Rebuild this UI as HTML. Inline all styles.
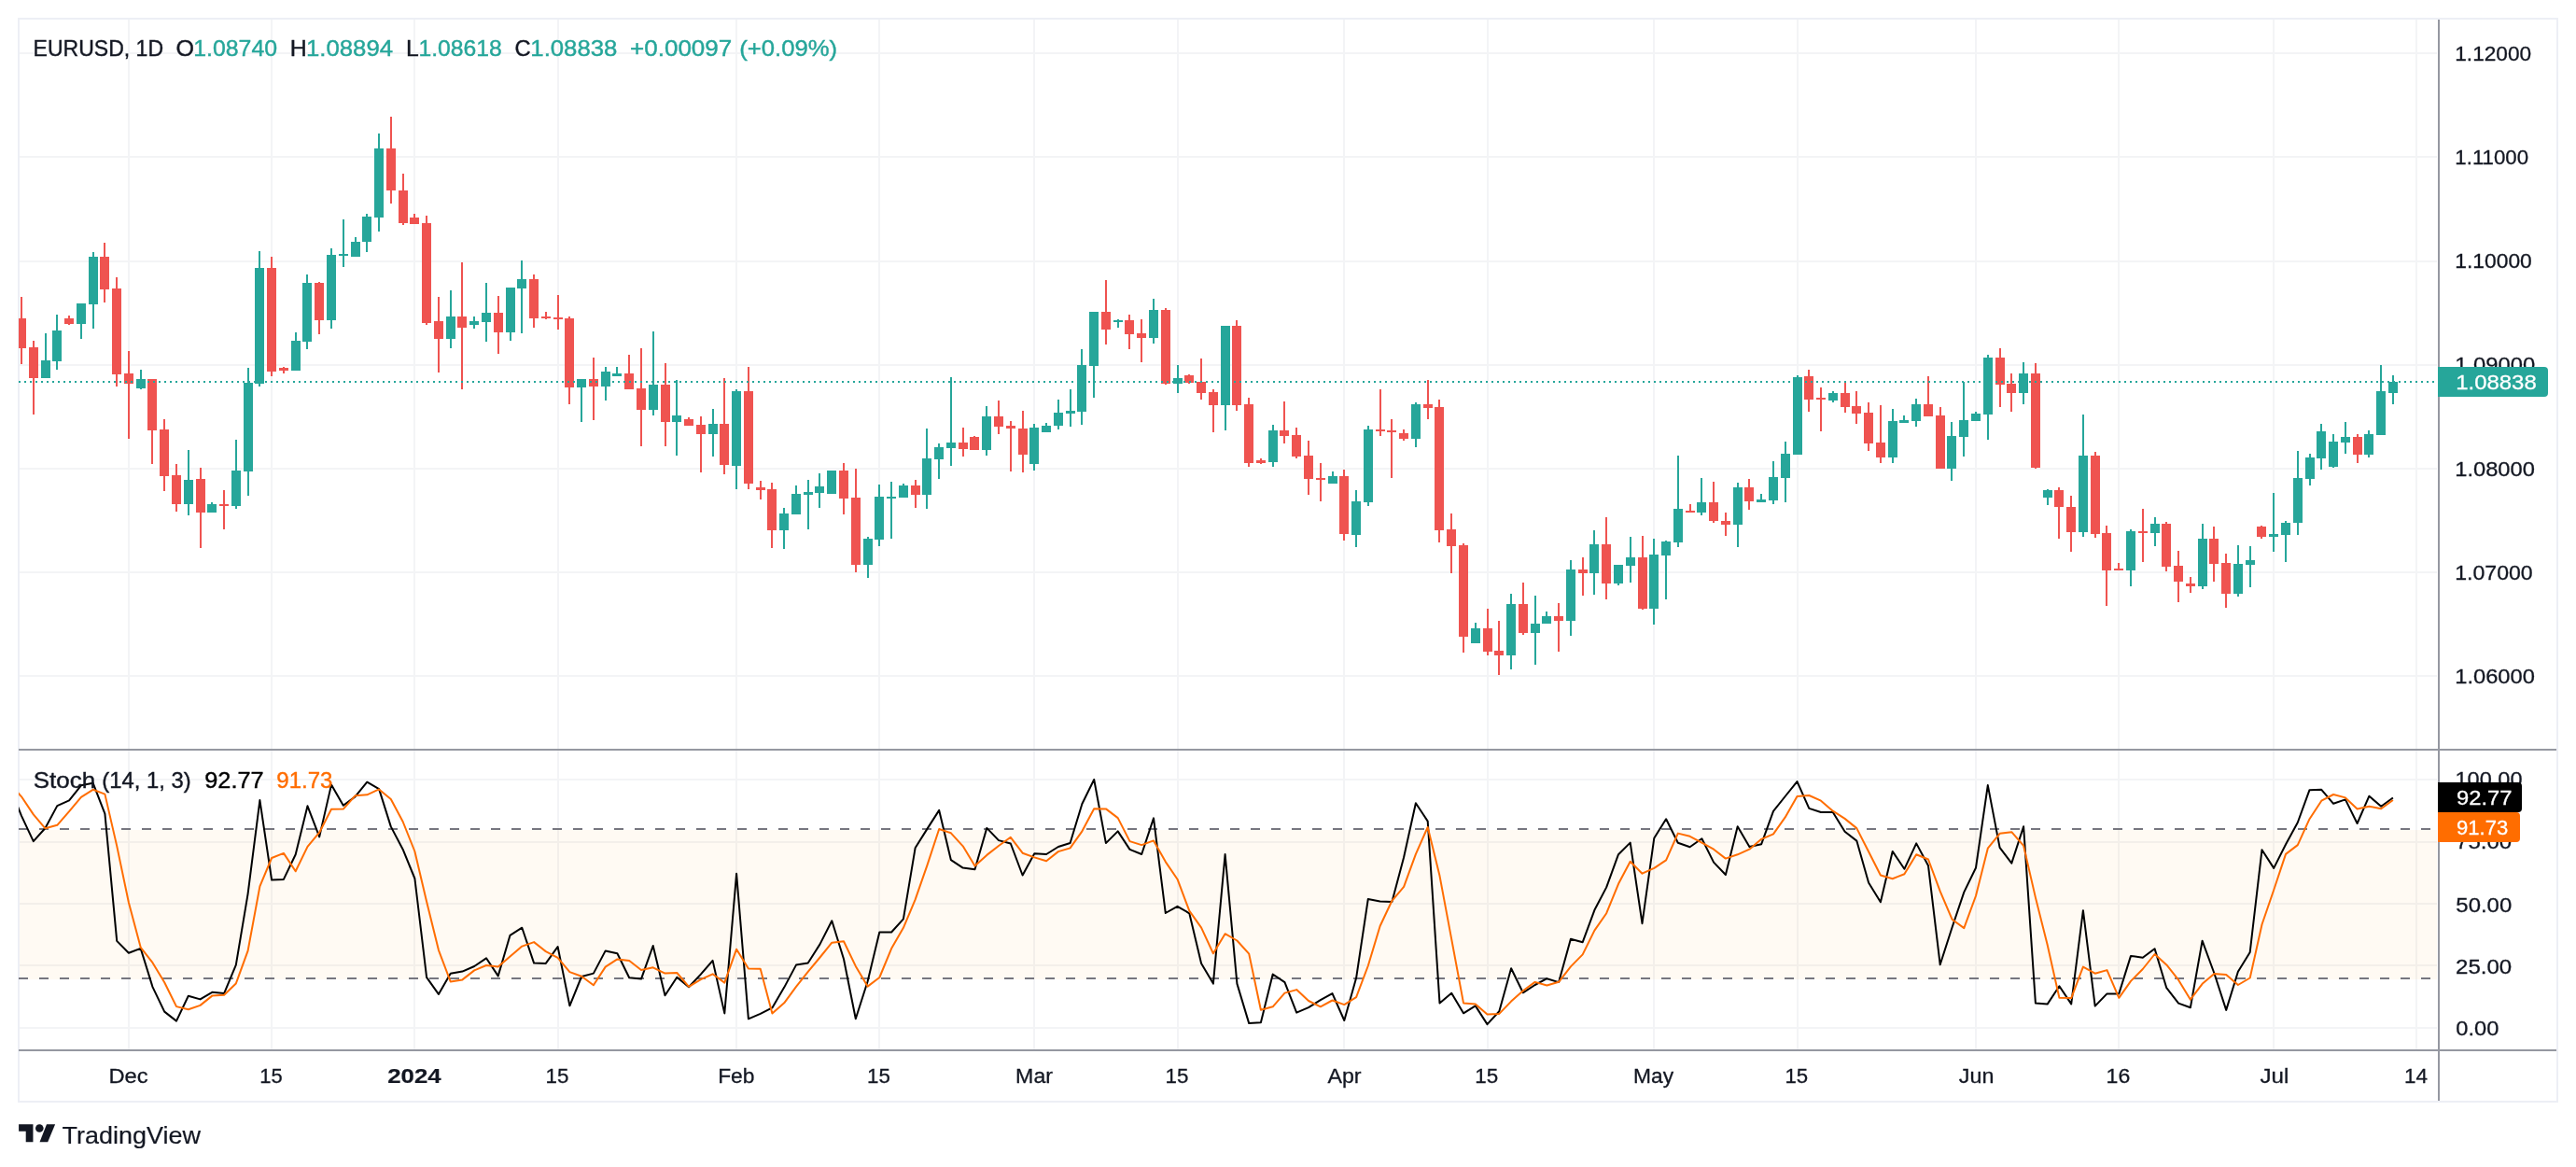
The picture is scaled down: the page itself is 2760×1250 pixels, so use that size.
<!DOCTYPE html><html><head><meta charset="utf-8"><title>EURUSD</title><style>html,body{margin:0;padding:0;background:#fff}body{width:2760px;height:1250px;overflow:hidden}svg{display:block}</style></head><body><svg width="2760" height="1250" viewBox="0 0 2760 1250" font-family="'Liberation Sans', sans-serif" style="will-change:transform">
<defs><clipPath id="cp1"><rect x="20" y="21" width="2592" height="781"/></clipPath><clipPath id="cp2"><rect x="20" y="804" width="2592" height="320"/></clipPath></defs>
<rect width="2760" height="1250" fill="#fff"/>
<g fill="#f3f4f6" shape-rendering="crispEdges">
<rect x="137" y="21" width="2" height="1103"/>
<rect x="290" y="21" width="2" height="1103"/>
<rect x="443" y="21" width="2" height="1103"/>
<rect x="597" y="21" width="2" height="1103"/>
<rect x="788" y="21" width="2" height="1103"/>
<rect x="941" y="21" width="2" height="1103"/>
<rect x="1107" y="21" width="2" height="1103"/>
<rect x="1261" y="21" width="2" height="1103"/>
<rect x="1439" y="21" width="2" height="1103"/>
<rect x="1593" y="21" width="2" height="1103"/>
<rect x="1771" y="21" width="2" height="1103"/>
<rect x="1925" y="21" width="2" height="1103"/>
<rect x="2116" y="21" width="2" height="1103"/>
<rect x="2269" y="21" width="2" height="1103"/>
<rect x="2435" y="21" width="2" height="1103"/>
<rect x="2588" y="21" width="2" height="1103"/>
<rect x="21" y="56" width="2590" height="2"/>
<rect x="21" y="167" width="2590" height="2"/>
<rect x="21" y="279" width="2590" height="2"/>
<rect x="21" y="390" width="2590" height="2"/>
<rect x="21" y="501" width="2590" height="2"/>
<rect x="21" y="612" width="2590" height="2"/>
<rect x="21" y="723" width="2590" height="2"/>
<rect x="21" y="834" width="2590" height="2"/>
<rect x="21" y="901" width="2590" height="2"/>
<rect x="21" y="967" width="2590" height="2"/>
<rect x="21" y="1033" width="2590" height="2"/>
<rect x="21" y="1100" width="2590" height="2"/>
</g>
<rect x="19" y="19" width="2" height="1162" fill="#edeff5" shape-rendering="crispEdges"/>
<rect x="21" y="889" width="2590" height="160" fill="rgb(255,160,40)" fill-opacity="0.055" shape-rendering="crispEdges"/>
<line x1="20" y1="888" x2="2612" y2="888" stroke="#76767f" stroke-width="2" stroke-dasharray="10 12" shape-rendering="crispEdges"/>
<line x1="20" y1="1048" x2="2612" y2="1048" stroke="#76767f" stroke-width="2" stroke-dasharray="10 12" shape-rendering="crispEdges"/>
<g clip-path="url(#cp1)" shape-rendering="crispEdges">
<rect x="22" y="318" width="2" height="72" fill="#ef5350"/><rect x="18" y="341" width="10" height="32" fill="#ef5350"/>
<rect x="35" y="365" width="2" height="79" fill="#ef5350"/><rect x="31" y="372" width="10" height="33" fill="#ef5350"/>
<rect x="48" y="357" width="2" height="48" fill="#26a69a"/><rect x="44" y="386" width="10" height="19" fill="#26a69a"/>
<rect x="60" y="337" width="2" height="59" fill="#26a69a"/><rect x="56" y="354" width="10" height="33" fill="#26a69a"/>
<rect x="73" y="338" width="2" height="10" fill="#ef5350"/><rect x="69" y="341" width="10" height="6" fill="#ef5350"/>
<rect x="86" y="325" width="2" height="38" fill="#26a69a"/><rect x="82" y="325" width="10" height="22" fill="#26a69a"/>
<rect x="99" y="270" width="2" height="82" fill="#26a69a"/><rect x="95" y="275" width="10" height="51" fill="#26a69a"/>
<rect x="111" y="260" width="2" height="64" fill="#ef5350"/><rect x="107" y="275" width="10" height="35" fill="#ef5350"/>
<rect x="124" y="297" width="2" height="117" fill="#ef5350"/><rect x="120" y="309" width="10" height="92" fill="#ef5350"/>
<rect x="137" y="376" width="2" height="94" fill="#ef5350"/><rect x="133" y="400" width="10" height="11" fill="#ef5350"/>
<rect x="150" y="396" width="2" height="21" fill="#26a69a"/><rect x="146" y="406" width="10" height="10" fill="#26a69a"/>
<rect x="162" y="406" width="2" height="91" fill="#ef5350"/><rect x="158" y="406" width="10" height="55" fill="#ef5350"/>
<rect x="175" y="449" width="2" height="77" fill="#ef5350"/><rect x="171" y="460" width="10" height="50" fill="#ef5350"/>
<rect x="188" y="497" width="2" height="51" fill="#ef5350"/><rect x="184" y="509" width="10" height="31" fill="#ef5350"/>
<rect x="201" y="482" width="2" height="70" fill="#26a69a"/><rect x="197" y="514" width="10" height="26" fill="#26a69a"/>
<rect x="214" y="501" width="2" height="86" fill="#ef5350"/><rect x="210" y="513" width="10" height="36" fill="#ef5350"/>
<rect x="226" y="538" width="2" height="11" fill="#26a69a"/><rect x="222" y="540" width="10" height="9" fill="#26a69a"/>
<rect x="239" y="525" width="2" height="42" fill="#ef5350"/><rect x="235" y="540" width="10" height="2" fill="#ef5350"/>
<rect x="252" y="471" width="2" height="74" fill="#26a69a"/><rect x="248" y="504" width="10" height="38" fill="#26a69a"/>
<rect x="265" y="394" width="2" height="137" fill="#26a69a"/><rect x="261" y="410" width="10" height="95" fill="#26a69a"/>
<rect x="277" y="269" width="2" height="145" fill="#26a69a"/><rect x="273" y="287" width="10" height="124" fill="#26a69a"/>
<rect x="290" y="275" width="2" height="128" fill="#ef5350"/><rect x="286" y="287" width="10" height="111" fill="#ef5350"/>
<rect x="303" y="393" width="2" height="7" fill="#ef5350"/><rect x="299" y="394" width="10" height="3" fill="#ef5350"/>
<rect x="316" y="356" width="2" height="41" fill="#26a69a"/><rect x="312" y="365" width="10" height="32" fill="#26a69a"/>
<rect x="328" y="294" width="2" height="80" fill="#26a69a"/><rect x="324" y="303" width="10" height="63" fill="#26a69a"/>
<rect x="341" y="302" width="2" height="56" fill="#ef5350"/><rect x="337" y="303" width="10" height="40" fill="#ef5350"/>
<rect x="354" y="266" width="2" height="86" fill="#26a69a"/><rect x="350" y="273" width="10" height="70" fill="#26a69a"/>
<rect x="367" y="235" width="2" height="51" fill="#26a69a"/><rect x="363" y="272" width="10" height="2" fill="#26a69a"/>
<rect x="380" y="254" width="2" height="21" fill="#26a69a"/><rect x="376" y="259" width="10" height="16" fill="#26a69a"/>
<rect x="392" y="229" width="2" height="41" fill="#26a69a"/><rect x="388" y="232" width="10" height="27" fill="#26a69a"/>
<rect x="405" y="143" width="2" height="105" fill="#26a69a"/><rect x="401" y="159" width="10" height="74" fill="#26a69a"/>
<rect x="418" y="125" width="2" height="93" fill="#ef5350"/><rect x="414" y="159" width="10" height="45" fill="#ef5350"/>
<rect x="431" y="186" width="2" height="55" fill="#ef5350"/><rect x="427" y="204" width="10" height="35" fill="#ef5350"/>
<rect x="443" y="229" width="2" height="11" fill="#ef5350"/><rect x="439" y="233" width="10" height="7" fill="#ef5350"/>
<rect x="456" y="231" width="2" height="117" fill="#ef5350"/><rect x="452" y="239" width="10" height="107" fill="#ef5350"/>
<rect x="469" y="318" width="2" height="81" fill="#ef5350"/><rect x="465" y="344" width="10" height="19" fill="#ef5350"/>
<rect x="482" y="311" width="2" height="62" fill="#26a69a"/><rect x="478" y="339" width="10" height="24" fill="#26a69a"/>
<rect x="494" y="281" width="2" height="136" fill="#ef5350"/><rect x="490" y="339" width="10" height="12" fill="#ef5350"/>
<rect x="507" y="339" width="2" height="13" fill="#26a69a"/><rect x="503" y="344" width="10" height="4" fill="#26a69a"/>
<rect x="520" y="303" width="2" height="63" fill="#26a69a"/><rect x="516" y="335" width="10" height="10" fill="#26a69a"/>
<rect x="533" y="317" width="2" height="62" fill="#ef5350"/><rect x="529" y="335" width="10" height="21" fill="#ef5350"/>
<rect x="546" y="308" width="2" height="57" fill="#26a69a"/><rect x="542" y="308" width="10" height="48" fill="#26a69a"/>
<rect x="558" y="279" width="2" height="78" fill="#26a69a"/><rect x="554" y="299" width="10" height="10" fill="#26a69a"/>
<rect x="571" y="294" width="2" height="57" fill="#ef5350"/><rect x="567" y="299" width="10" height="42" fill="#ef5350"/>
<rect x="584" y="334" width="2" height="8" fill="#ef5350"/><rect x="580" y="339" width="10" height="2" fill="#ef5350"/>
<rect x="597" y="316" width="2" height="37" fill="#ef5350"/><rect x="593" y="340" width="10" height="2" fill="#ef5350"/>
<rect x="609" y="339" width="2" height="94" fill="#ef5350"/><rect x="605" y="341" width="10" height="74" fill="#ef5350"/>
<rect x="622" y="406" width="2" height="46" fill="#26a69a"/><rect x="618" y="406" width="10" height="9" fill="#26a69a"/>
<rect x="635" y="383" width="2" height="67" fill="#ef5350"/><rect x="631" y="406" width="10" height="8" fill="#ef5350"/>
<rect x="648" y="393" width="2" height="36" fill="#26a69a"/><rect x="644" y="398" width="10" height="16" fill="#26a69a"/>
<rect x="660" y="393" width="2" height="10" fill="#26a69a"/><rect x="656" y="400" width="10" height="3" fill="#26a69a"/>
<rect x="673" y="380" width="2" height="37" fill="#ef5350"/><rect x="669" y="400" width="10" height="17" fill="#ef5350"/>
<rect x="686" y="373" width="2" height="105" fill="#ef5350"/><rect x="682" y="416" width="10" height="23" fill="#ef5350"/>
<rect x="699" y="355" width="2" height="90" fill="#26a69a"/><rect x="695" y="412" width="10" height="27" fill="#26a69a"/>
<rect x="712" y="389" width="2" height="89" fill="#ef5350"/><rect x="708" y="412" width="10" height="40" fill="#ef5350"/>
<rect x="724" y="407" width="2" height="81" fill="#26a69a"/><rect x="720" y="445" width="10" height="7" fill="#26a69a"/>
<rect x="737" y="447" width="2" height="9" fill="#ef5350"/><rect x="733" y="449" width="10" height="7" fill="#ef5350"/>
<rect x="750" y="446" width="2" height="60" fill="#ef5350"/><rect x="746" y="455" width="10" height="10" fill="#ef5350"/>
<rect x="763" y="438" width="2" height="51" fill="#26a69a"/><rect x="759" y="454" width="10" height="11" fill="#26a69a"/>
<rect x="775" y="405" width="2" height="103" fill="#ef5350"/><rect x="771" y="454" width="10" height="44" fill="#ef5350"/>
<rect x="788" y="417" width="2" height="107" fill="#26a69a"/><rect x="784" y="419" width="10" height="80" fill="#26a69a"/>
<rect x="801" y="393" width="2" height="131" fill="#ef5350"/><rect x="797" y="419" width="10" height="99" fill="#ef5350"/>
<rect x="814" y="515" width="2" height="20" fill="#ef5350"/><rect x="810" y="522" width="10" height="3" fill="#ef5350"/>
<rect x="826" y="517" width="2" height="70" fill="#ef5350"/><rect x="822" y="524" width="10" height="44" fill="#ef5350"/>
<rect x="839" y="544" width="2" height="44" fill="#26a69a"/><rect x="835" y="550" width="10" height="18" fill="#26a69a"/>
<rect x="852" y="520" width="2" height="31" fill="#26a69a"/><rect x="848" y="529" width="10" height="22" fill="#26a69a"/>
<rect x="865" y="514" width="2" height="53" fill="#26a69a"/><rect x="861" y="527" width="10" height="3" fill="#26a69a"/>
<rect x="877" y="507" width="2" height="37" fill="#26a69a"/><rect x="873" y="521" width="10" height="7" fill="#26a69a"/>
<rect x="890" y="504" width="2" height="25" fill="#26a69a"/><rect x="886" y="504" width="10" height="25" fill="#26a69a"/>
<rect x="903" y="496" width="2" height="55" fill="#ef5350"/><rect x="899" y="504" width="10" height="30" fill="#ef5350"/>
<rect x="916" y="502" width="2" height="111" fill="#ef5350"/><rect x="912" y="533" width="10" height="72" fill="#ef5350"/>
<rect x="929" y="575" width="2" height="44" fill="#26a69a"/><rect x="925" y="577" width="10" height="28" fill="#26a69a"/>
<rect x="941" y="519" width="2" height="66" fill="#26a69a"/><rect x="937" y="532" width="10" height="46" fill="#26a69a"/>
<rect x="954" y="516" width="2" height="61" fill="#26a69a"/><rect x="950" y="532" width="10" height="2" fill="#26a69a"/>
<rect x="967" y="518" width="2" height="15" fill="#26a69a"/><rect x="963" y="520" width="10" height="13" fill="#26a69a"/>
<rect x="980" y="514" width="2" height="30" fill="#ef5350"/><rect x="976" y="520" width="10" height="10" fill="#ef5350"/>
<rect x="992" y="459" width="2" height="86" fill="#26a69a"/><rect x="988" y="491" width="10" height="39" fill="#26a69a"/>
<rect x="1005" y="475" width="2" height="38" fill="#26a69a"/><rect x="1001" y="479" width="10" height="13" fill="#26a69a"/>
<rect x="1018" y="404" width="2" height="95" fill="#26a69a"/><rect x="1014" y="474" width="10" height="6" fill="#26a69a"/>
<rect x="1031" y="458" width="2" height="31" fill="#ef5350"/><rect x="1027" y="474" width="10" height="7" fill="#ef5350"/>
<rect x="1043" y="467" width="2" height="15" fill="#ef5350"/><rect x="1039" y="468" width="10" height="14" fill="#ef5350"/>
<rect x="1056" y="435" width="2" height="53" fill="#26a69a"/><rect x="1052" y="446" width="10" height="36" fill="#26a69a"/>
<rect x="1069" y="429" width="2" height="36" fill="#ef5350"/><rect x="1065" y="446" width="10" height="11" fill="#ef5350"/>
<rect x="1082" y="451" width="2" height="54" fill="#ef5350"/><rect x="1078" y="456" width="10" height="3" fill="#ef5350"/>
<rect x="1095" y="440" width="2" height="66" fill="#ef5350"/><rect x="1091" y="459" width="10" height="28" fill="#ef5350"/>
<rect x="1107" y="454" width="2" height="50" fill="#26a69a"/><rect x="1103" y="458" width="10" height="39" fill="#26a69a"/>
<rect x="1120" y="453" width="2" height="10" fill="#26a69a"/><rect x="1116" y="456" width="10" height="7" fill="#26a69a"/>
<rect x="1133" y="428" width="2" height="32" fill="#26a69a"/><rect x="1129" y="442" width="10" height="14" fill="#26a69a"/>
<rect x="1146" y="417" width="2" height="40" fill="#26a69a"/><rect x="1142" y="440" width="10" height="3" fill="#26a69a"/>
<rect x="1158" y="374" width="2" height="81" fill="#26a69a"/><rect x="1154" y="391" width="10" height="50" fill="#26a69a"/>
<rect x="1171" y="334" width="2" height="92" fill="#26a69a"/><rect x="1167" y="334" width="10" height="58" fill="#26a69a"/>
<rect x="1184" y="300" width="2" height="69" fill="#ef5350"/><rect x="1180" y="334" width="10" height="19" fill="#ef5350"/>
<rect x="1197" y="342" width="2" height="9" fill="#26a69a"/><rect x="1193" y="343" width="10" height="2" fill="#26a69a"/>
<rect x="1209" y="337" width="2" height="37" fill="#ef5350"/><rect x="1205" y="343" width="10" height="15" fill="#ef5350"/>
<rect x="1222" y="342" width="2" height="46" fill="#ef5350"/><rect x="1218" y="357" width="10" height="5" fill="#ef5350"/>
<rect x="1235" y="320" width="2" height="48" fill="#26a69a"/><rect x="1231" y="332" width="10" height="30" fill="#26a69a"/>
<rect x="1248" y="330" width="2" height="82" fill="#ef5350"/><rect x="1244" y="332" width="10" height="79" fill="#ef5350"/>
<rect x="1261" y="391" width="2" height="30" fill="#26a69a"/><rect x="1257" y="405" width="10" height="6" fill="#26a69a"/>
<rect x="1273" y="401" width="2" height="10" fill="#ef5350"/><rect x="1269" y="402" width="10" height="8" fill="#ef5350"/>
<rect x="1286" y="384" width="2" height="44" fill="#ef5350"/><rect x="1282" y="409" width="10" height="12" fill="#ef5350"/>
<rect x="1299" y="417" width="2" height="46" fill="#ef5350"/><rect x="1295" y="420" width="10" height="14" fill="#ef5350"/>
<rect x="1312" y="349" width="2" height="112" fill="#26a69a"/><rect x="1308" y="349" width="10" height="85" fill="#26a69a"/>
<rect x="1324" y="343" width="2" height="97" fill="#ef5350"/><rect x="1320" y="349" width="10" height="85" fill="#ef5350"/>
<rect x="1337" y="426" width="2" height="74" fill="#ef5350"/><rect x="1333" y="433" width="10" height="63" fill="#ef5350"/>
<rect x="1350" y="491" width="2" height="6" fill="#ef5350"/><rect x="1346" y="493" width="10" height="3" fill="#ef5350"/>
<rect x="1363" y="455" width="2" height="45" fill="#26a69a"/><rect x="1359" y="461" width="10" height="34" fill="#26a69a"/>
<rect x="1375" y="430" width="2" height="45" fill="#ef5350"/><rect x="1371" y="461" width="10" height="6" fill="#ef5350"/>
<rect x="1388" y="458" width="2" height="33" fill="#ef5350"/><rect x="1384" y="466" width="10" height="23" fill="#ef5350"/>
<rect x="1401" y="472" width="2" height="58" fill="#ef5350"/><rect x="1397" y="488" width="10" height="25" fill="#ef5350"/>
<rect x="1414" y="496" width="2" height="41" fill="#ef5350"/><rect x="1410" y="512" width="10" height="2" fill="#ef5350"/>
<rect x="1427" y="505" width="2" height="13" fill="#26a69a"/><rect x="1423" y="510" width="10" height="8" fill="#26a69a"/>
<rect x="1439" y="503" width="2" height="76" fill="#ef5350"/><rect x="1435" y="510" width="10" height="62" fill="#ef5350"/>
<rect x="1452" y="525" width="2" height="61" fill="#26a69a"/><rect x="1448" y="537" width="10" height="36" fill="#26a69a"/>
<rect x="1465" y="456" width="2" height="86" fill="#26a69a"/><rect x="1461" y="460" width="10" height="78" fill="#26a69a"/>
<rect x="1478" y="417" width="2" height="50" fill="#ef5350"/><rect x="1474" y="460" width="10" height="2" fill="#ef5350"/>
<rect x="1490" y="449" width="2" height="63" fill="#ef5350"/><rect x="1486" y="461" width="10" height="2" fill="#ef5350"/>
<rect x="1503" y="460" width="2" height="12" fill="#ef5350"/><rect x="1499" y="464" width="10" height="6" fill="#ef5350"/>
<rect x="1516" y="431" width="2" height="48" fill="#26a69a"/><rect x="1512" y="433" width="10" height="37" fill="#26a69a"/>
<rect x="1529" y="407" width="2" height="42" fill="#ef5350"/><rect x="1525" y="433" width="10" height="4" fill="#ef5350"/>
<rect x="1541" y="428" width="2" height="153" fill="#ef5350"/><rect x="1537" y="436" width="10" height="132" fill="#ef5350"/>
<rect x="1554" y="550" width="2" height="64" fill="#ef5350"/><rect x="1550" y="567" width="10" height="18" fill="#ef5350"/>
<rect x="1567" y="582" width="2" height="117" fill="#ef5350"/><rect x="1563" y="584" width="10" height="98" fill="#ef5350"/>
<rect x="1580" y="667" width="2" height="22" fill="#26a69a"/><rect x="1576" y="673" width="10" height="16" fill="#26a69a"/>
<rect x="1593" y="652" width="2" height="50" fill="#ef5350"/><rect x="1589" y="673" width="10" height="25" fill="#ef5350"/>
<rect x="1605" y="665" width="2" height="58" fill="#ef5350"/><rect x="1601" y="697" width="10" height="5" fill="#ef5350"/>
<rect x="1618" y="636" width="2" height="81" fill="#26a69a"/><rect x="1614" y="647" width="10" height="55" fill="#26a69a"/>
<rect x="1631" y="624" width="2" height="56" fill="#ef5350"/><rect x="1627" y="647" width="10" height="31" fill="#ef5350"/>
<rect x="1644" y="638" width="2" height="74" fill="#26a69a"/><rect x="1640" y="668" width="10" height="10" fill="#26a69a"/>
<rect x="1656" y="655" width="2" height="13" fill="#26a69a"/><rect x="1652" y="660" width="10" height="8" fill="#26a69a"/>
<rect x="1669" y="646" width="2" height="52" fill="#ef5350"/><rect x="1665" y="660" width="10" height="5" fill="#ef5350"/>
<rect x="1682" y="600" width="2" height="81" fill="#26a69a"/><rect x="1678" y="610" width="10" height="55" fill="#26a69a"/>
<rect x="1695" y="597" width="2" height="41" fill="#ef5350"/><rect x="1691" y="610" width="10" height="4" fill="#ef5350"/>
<rect x="1707" y="568" width="2" height="69" fill="#26a69a"/><rect x="1703" y="583" width="10" height="31" fill="#26a69a"/>
<rect x="1720" y="554" width="2" height="88" fill="#ef5350"/><rect x="1716" y="583" width="10" height="42" fill="#ef5350"/>
<rect x="1733" y="605" width="2" height="22" fill="#26a69a"/><rect x="1729" y="605" width="10" height="20" fill="#26a69a"/>
<rect x="1746" y="575" width="2" height="49" fill="#26a69a"/><rect x="1742" y="597" width="10" height="9" fill="#26a69a"/>
<rect x="1759" y="574" width="2" height="79" fill="#ef5350"/><rect x="1755" y="597" width="10" height="55" fill="#ef5350"/>
<rect x="1771" y="577" width="2" height="92" fill="#26a69a"/><rect x="1767" y="594" width="10" height="58" fill="#26a69a"/>
<rect x="1784" y="579" width="2" height="63" fill="#26a69a"/><rect x="1780" y="580" width="10" height="15" fill="#26a69a"/>
<rect x="1797" y="488" width="2" height="98" fill="#26a69a"/><rect x="1793" y="545" width="10" height="36" fill="#26a69a"/>
<rect x="1810" y="540" width="2" height="9" fill="#ef5350"/><rect x="1806" y="547" width="10" height="2" fill="#ef5350"/>
<rect x="1822" y="512" width="2" height="40" fill="#26a69a"/><rect x="1818" y="538" width="10" height="11" fill="#26a69a"/>
<rect x="1835" y="516" width="2" height="44" fill="#ef5350"/><rect x="1831" y="538" width="10" height="20" fill="#ef5350"/>
<rect x="1848" y="549" width="2" height="25" fill="#ef5350"/><rect x="1844" y="558" width="10" height="4" fill="#ef5350"/>
<rect x="1861" y="517" width="2" height="69" fill="#26a69a"/><rect x="1857" y="522" width="10" height="40" fill="#26a69a"/>
<rect x="1873" y="513" width="2" height="33" fill="#ef5350"/><rect x="1869" y="522" width="10" height="15" fill="#ef5350"/>
<rect x="1886" y="529" width="2" height="9" fill="#26a69a"/><rect x="1882" y="535" width="10" height="3" fill="#26a69a"/>
<rect x="1899" y="494" width="2" height="46" fill="#26a69a"/><rect x="1895" y="511" width="10" height="25" fill="#26a69a"/>
<rect x="1912" y="473" width="2" height="65" fill="#26a69a"/><rect x="1908" y="486" width="10" height="26" fill="#26a69a"/>
<rect x="1925" y="402" width="2" height="85" fill="#26a69a"/><rect x="1921" y="404" width="10" height="83" fill="#26a69a"/>
<rect x="1937" y="396" width="2" height="45" fill="#ef5350"/><rect x="1933" y="403" width="10" height="25" fill="#ef5350"/>
<rect x="1950" y="415" width="2" height="47" fill="#ef5350"/><rect x="1946" y="426" width="10" height="2" fill="#ef5350"/>
<rect x="1963" y="419" width="2" height="12" fill="#26a69a"/><rect x="1959" y="421" width="10" height="8" fill="#26a69a"/>
<rect x="1976" y="408" width="2" height="34" fill="#ef5350"/><rect x="1972" y="421" width="10" height="15" fill="#ef5350"/>
<rect x="1988" y="419" width="2" height="35" fill="#ef5350"/><rect x="1984" y="435" width="10" height="8" fill="#ef5350"/>
<rect x="2001" y="431" width="2" height="52" fill="#ef5350"/><rect x="1997" y="442" width="10" height="33" fill="#ef5350"/>
<rect x="2014" y="434" width="2" height="62" fill="#ef5350"/><rect x="2010" y="474" width="10" height="16" fill="#ef5350"/>
<rect x="2027" y="438" width="2" height="58" fill="#26a69a"/><rect x="2023" y="451" width="10" height="39" fill="#26a69a"/>
<rect x="2039" y="445" width="2" height="8" fill="#26a69a"/><rect x="2035" y="450" width="10" height="3" fill="#26a69a"/>
<rect x="2052" y="427" width="2" height="30" fill="#26a69a"/><rect x="2048" y="433" width="10" height="18" fill="#26a69a"/>
<rect x="2065" y="403" width="2" height="43" fill="#ef5350"/><rect x="2061" y="433" width="10" height="13" fill="#ef5350"/>
<rect x="2078" y="436" width="2" height="66" fill="#ef5350"/><rect x="2074" y="445" width="10" height="57" fill="#ef5350"/>
<rect x="2090" y="452" width="2" height="63" fill="#26a69a"/><rect x="2086" y="467" width="10" height="35" fill="#26a69a"/>
<rect x="2103" y="409" width="2" height="80" fill="#26a69a"/><rect x="2099" y="450" width="10" height="18" fill="#26a69a"/>
<rect x="2116" y="441" width="2" height="10" fill="#26a69a"/><rect x="2112" y="443" width="10" height="8" fill="#26a69a"/>
<rect x="2129" y="380" width="2" height="91" fill="#26a69a"/><rect x="2125" y="383" width="10" height="61" fill="#26a69a"/>
<rect x="2142" y="373" width="2" height="63" fill="#ef5350"/><rect x="2138" y="383" width="10" height="29" fill="#ef5350"/>
<rect x="2154" y="400" width="2" height="41" fill="#ef5350"/><rect x="2150" y="411" width="10" height="10" fill="#ef5350"/>
<rect x="2167" y="388" width="2" height="45" fill="#26a69a"/><rect x="2163" y="400" width="10" height="21" fill="#26a69a"/>
<rect x="2180" y="389" width="2" height="113" fill="#ef5350"/><rect x="2176" y="400" width="10" height="101" fill="#ef5350"/>
<rect x="2193" y="524" width="2" height="17" fill="#26a69a"/><rect x="2189" y="525" width="10" height="8" fill="#26a69a"/>
<rect x="2205" y="522" width="2" height="55" fill="#ef5350"/><rect x="2201" y="525" width="10" height="18" fill="#ef5350"/>
<rect x="2218" y="531" width="2" height="60" fill="#ef5350"/><rect x="2214" y="543" width="10" height="27" fill="#ef5350"/>
<rect x="2231" y="444" width="2" height="131" fill="#26a69a"/><rect x="2227" y="488" width="10" height="82" fill="#26a69a"/>
<rect x="2244" y="484" width="2" height="92" fill="#ef5350"/><rect x="2240" y="488" width="10" height="84" fill="#ef5350"/>
<rect x="2256" y="563" width="2" height="86" fill="#ef5350"/><rect x="2252" y="571" width="10" height="40" fill="#ef5350"/>
<rect x="2269" y="603" width="2" height="8" fill="#ef5350"/><rect x="2265" y="609" width="10" height="2" fill="#ef5350"/>
<rect x="2282" y="567" width="2" height="61" fill="#26a69a"/><rect x="2278" y="569" width="10" height="42" fill="#26a69a"/>
<rect x="2295" y="545" width="2" height="57" fill="#ef5350"/><rect x="2291" y="569" width="10" height="2" fill="#ef5350"/>
<rect x="2308" y="554" width="2" height="31" fill="#26a69a"/><rect x="2304" y="561" width="10" height="10" fill="#26a69a"/>
<rect x="2320" y="559" width="2" height="53" fill="#ef5350"/><rect x="2316" y="561" width="10" height="46" fill="#ef5350"/>
<rect x="2333" y="590" width="2" height="55" fill="#ef5350"/><rect x="2329" y="606" width="10" height="17" fill="#ef5350"/>
<rect x="2346" y="618" width="2" height="17" fill="#ef5350"/><rect x="2342" y="625" width="10" height="3" fill="#ef5350"/>
<rect x="2359" y="561" width="2" height="70" fill="#26a69a"/><rect x="2355" y="577" width="10" height="51" fill="#26a69a"/>
<rect x="2371" y="564" width="2" height="59" fill="#ef5350"/><rect x="2367" y="577" width="10" height="27" fill="#ef5350"/>
<rect x="2384" y="593" width="2" height="58" fill="#ef5350"/><rect x="2380" y="603" width="10" height="33" fill="#ef5350"/>
<rect x="2397" y="584" width="2" height="55" fill="#26a69a"/><rect x="2393" y="604" width="10" height="32" fill="#26a69a"/>
<rect x="2410" y="585" width="2" height="44" fill="#26a69a"/><rect x="2406" y="600" width="10" height="5" fill="#26a69a"/>
<rect x="2422" y="563" width="2" height="14" fill="#ef5350"/><rect x="2418" y="564" width="10" height="11" fill="#ef5350"/>
<rect x="2435" y="528" width="2" height="63" fill="#26a69a"/><rect x="2431" y="572" width="10" height="3" fill="#26a69a"/>
<rect x="2448" y="558" width="2" height="44" fill="#26a69a"/><rect x="2444" y="560" width="10" height="13" fill="#26a69a"/>
<rect x="2461" y="483" width="2" height="90" fill="#26a69a"/><rect x="2457" y="512" width="10" height="48" fill="#26a69a"/>
<rect x="2474" y="486" width="2" height="34" fill="#26a69a"/><rect x="2470" y="490" width="10" height="23" fill="#26a69a"/>
<rect x="2486" y="454" width="2" height="49" fill="#26a69a"/><rect x="2482" y="462" width="10" height="29" fill="#26a69a"/>
<rect x="2499" y="465" width="2" height="36" fill="#26a69a"/><rect x="2495" y="473" width="10" height="27" fill="#26a69a"/>
<rect x="2512" y="452" width="2" height="34" fill="#26a69a"/><rect x="2508" y="468" width="10" height="6" fill="#26a69a"/>
<rect x="2525" y="465" width="2" height="31" fill="#ef5350"/><rect x="2521" y="468" width="10" height="19" fill="#ef5350"/>
<rect x="2537" y="461" width="2" height="29" fill="#26a69a"/><rect x="2533" y="465" width="10" height="22" fill="#26a69a"/>
<rect x="2550" y="391" width="2" height="75" fill="#26a69a"/><rect x="2546" y="419" width="10" height="47" fill="#26a69a"/>
<rect x="2563" y="402" width="2" height="31" fill="#26a69a"/><rect x="2559" y="409" width="10" height="12" fill="#26a69a"/>
</g>
<line x1="20" y1="409" x2="2610" y2="409" stroke="#26a69a" stroke-width="2" stroke-dasharray="2 4" shape-rendering="crispEdges"/>
<g clip-path="url(#cp2)">
<polyline points="10.2,842.4 23.0,873.8 35.8,901.1 48.5,887.0 61.3,863.1 74.1,857.3 86.9,841.3 99.6,838.7 112.4,871.6 125.2,1007.9 137.9,1020.7 150.7,1015.9 163.5,1057.1 176.2,1083.6 189.0,1093.6 201.8,1066.7 214.5,1070.4 227.3,1062.8 240.1,1064.1 252.8,1033.7 265.6,957.3 278.4,857.1 291.1,942.5 303.9,941.9 316.7,915.3 329.5,863.3 342.2,896.4 355.0,840.6 367.8,862.8 380.5,853.4 393.3,837.7 406.1,845.1 418.8,885.4 431.6,909.7 444.4,941.0 457.1,1046.8 469.9,1064.9 482.7,1042.7 495.4,1040.6 508.2,1035.0 521.0,1026.3 533.7,1045.4 546.5,1001.8 559.3,993.7 572.1,1031.6 584.8,1031.9 597.6,1014.0 610.4,1077.3 623.1,1046.0 635.9,1042.6 648.7,1018.4 661.4,1021.2 674.2,1047.3 687.0,1048.6 699.7,1013.0 712.5,1066.3 725.3,1046.7 738.0,1057.3 750.8,1043.6 763.6,1028.9 776.3,1085.4 789.1,935.8 801.9,1091.3 814.7,1085.9 827.4,1079.4 840.2,1057.6 853.0,1033.6 865.7,1031.5 878.5,1011.4 891.3,986.3 904.0,1027.2 916.8,1091.3 929.6,1051.2 942.3,998.5 955.1,998.5 967.9,984.4 980.6,908.3 993.4,887.9 1006.2,867.9 1018.9,921.2 1031.7,929.6 1044.5,931.2 1057.3,886.9 1070.0,900.1 1082.8,903.5 1095.6,937.5 1108.3,914.2 1121.1,915.0 1133.9,907.0 1146.6,903.0 1159.4,861.0 1172.2,835.0 1184.9,903.1 1197.7,890.4 1210.5,909.9 1223.2,915.0 1236.0,876.4 1248.8,978.0 1261.5,970.8 1274.3,978.3 1287.1,1032.0 1299.9,1053.6 1312.6,915.1 1325.4,1053.6 1338.2,1096.1 1350.9,1095.3 1363.7,1043.5 1376.5,1052.2 1389.2,1084.6 1402.0,1079.1 1414.8,1071.2 1427.5,1064.1 1440.3,1093.0 1453.1,1047.6 1465.8,963.0 1478.6,965.4 1491.4,966.1 1504.1,918.2 1516.9,860.3 1529.7,879.6 1542.5,1074.4 1555.2,1063.7 1568.0,1085.3 1580.8,1077.4 1593.5,1097.1 1606.3,1083.3 1619.1,1037.3 1631.8,1063.3 1644.6,1055.0 1657.4,1048.2 1670.1,1052.1 1682.9,1005.8 1695.7,1009.2 1708.4,974.8 1721.2,950.4 1734.0,915.2 1746.7,902.6 1759.5,989.2 1772.3,897.7 1785.1,877.3 1797.8,902.8 1810.6,907.2 1823.4,898.3 1836.1,923.6 1848.9,937.0 1861.7,885.2 1874.4,906.9 1887.2,904.2 1900.0,868.9 1912.7,853.0 1925.5,837.1 1938.3,865.9 1951.0,870.0 1963.8,870.0 1976.6,890.7 1989.3,900.6 2002.1,945.5 2014.9,966.3 2027.7,911.9 2040.4,930.8 2053.2,903.4 2066.0,927.3 2078.7,1033.3 2091.5,993.5 2104.3,955.6 2117.0,929.5 2129.8,841.1 2142.6,907.9 2155.3,924.6 2168.1,885.3 2180.9,1074.4 2193.6,1075.6 2206.4,1056.3 2219.2,1075.4 2231.9,975.2 2244.7,1077.6 2257.5,1064.4 2270.3,1064.4 2283.0,1023.9 2295.8,1025.7 2308.6,1016.2 2321.3,1058.2 2334.1,1074.6 2346.9,1079.2 2359.6,1007.7 2372.4,1042.5 2385.2,1081.9 2397.9,1040.7 2410.7,1019.9 2423.5,910.2 2436.2,929.9 2449.0,904.5 2461.8,881.0 2474.5,846.2 2487.3,845.8 2500.1,860.8 2512.9,856.4 2525.6,882.0 2538.4,852.7 2551.2,863.7 2563.9,854.5" fill="none" stroke="#000" stroke-width="2" stroke-linejoin="round"/>
<polyline points="10.2,839.2 23.0,853.3 35.8,872.4 48.5,887.3 61.3,883.8 74.1,869.2 86.9,853.9 99.6,845.8 112.4,850.6 125.2,906.1 137.9,966.7 150.7,1014.8 163.5,1031.2 176.2,1052.2 189.0,1078.1 201.8,1081.3 214.5,1076.9 227.3,1066.6 240.1,1065.8 252.8,1053.5 265.6,1018.4 278.4,949.4 291.1,919.0 303.9,913.9 316.7,933.3 329.5,906.9 342.2,891.7 355.0,866.8 367.8,866.6 380.5,852.3 393.3,851.3 406.1,845.4 418.8,856.0 431.6,880.0 444.4,912.0 457.1,965.8 469.9,1017.6 482.7,1051.5 495.4,1049.4 508.2,1039.4 521.0,1034.0 533.7,1035.6 546.5,1024.5 559.3,1013.6 572.1,1009.1 584.8,1019.1 597.6,1025.8 610.4,1041.1 623.1,1045.8 635.9,1055.3 648.7,1035.6 661.4,1027.4 674.2,1029.0 687.0,1039.0 699.7,1036.3 712.5,1042.6 725.3,1042.0 738.0,1056.8 750.8,1049.2 763.6,1043.3 776.3,1052.6 789.1,1016.7 801.9,1037.5 814.7,1037.7 827.4,1085.5 840.2,1074.3 853.0,1056.9 865.7,1040.9 878.5,1025.5 891.3,1009.7 904.0,1008.3 916.8,1034.9 929.6,1056.6 942.3,1047.0 955.1,1016.1 967.9,993.8 980.6,963.7 993.4,926.9 1006.2,888.0 1018.9,892.3 1031.7,906.3 1044.5,927.4 1057.3,915.9 1070.0,906.0 1082.8,896.8 1095.6,913.7 1108.3,918.4 1121.1,922.2 1133.9,912.1 1146.6,908.4 1159.4,890.3 1172.2,866.3 1184.9,866.4 1197.7,876.1 1210.5,901.1 1223.2,905.1 1236.0,900.4 1248.8,923.1 1261.5,941.7 1274.3,975.7 1287.1,993.7 1299.9,1021.3 1312.6,1000.2 1325.4,1007.5 1338.2,1021.6 1350.9,1081.7 1363.7,1078.3 1376.5,1063.6 1389.2,1060.1 1402.0,1072.0 1414.8,1078.3 1427.5,1071.5 1440.3,1076.1 1453.1,1068.2 1465.8,1034.5 1478.6,992.0 1491.4,964.8 1504.1,949.9 1516.9,914.8 1529.7,886.0 1542.5,938.1 1555.2,1005.9 1568.0,1074.4 1580.8,1075.4 1593.5,1086.6 1606.3,1085.9 1619.1,1072.6 1631.8,1061.3 1644.6,1051.9 1657.4,1055.5 1670.1,1051.8 1682.9,1035.4 1695.7,1022.4 1708.4,996.6 1721.2,978.2 1734.0,946.8 1746.7,922.8 1759.5,935.7 1772.3,929.8 1785.1,921.4 1797.8,892.6 1810.6,895.8 1823.4,902.7 1836.1,909.7 1848.9,919.6 1861.7,915.3 1874.4,909.7 1887.2,898.8 1900.0,893.3 1912.7,875.4 1925.5,853.0 1938.3,852.0 1951.0,857.7 1963.8,868.7 1976.6,876.9 1989.3,887.1 2002.1,912.3 2014.9,937.5 2027.7,941.2 2040.4,936.3 2053.2,915.3 2066.0,920.5 2078.7,954.7 2091.5,984.7 2104.3,994.1 2117.0,959.5 2129.8,908.7 2142.6,892.8 2155.3,891.2 2168.1,905.9 2180.9,961.4 2193.6,1011.8 2206.4,1068.8 2219.2,1069.1 2231.9,1035.6 2244.7,1042.7 2257.5,1039.1 2270.3,1068.8 2283.0,1050.9 2295.8,1038.0 2308.6,1022.0 2321.3,1033.4 2334.1,1049.7 2346.9,1070.7 2359.6,1053.8 2372.4,1043.1 2385.2,1044.0 2397.9,1055.0 2410.7,1047.5 2423.5,990.3 2436.2,953.3 2449.0,914.9 2461.8,905.1 2474.5,877.2 2487.3,857.7 2500.1,851.0 2512.9,854.4 2525.6,866.4 2538.4,863.7 2551.2,866.2 2563.9,857.0" fill="none" stroke="#ff6d00" stroke-width="2" stroke-linejoin="round"/>
</g>
<g shape-rendering="crispEdges">
<rect x="19" y="19" width="2722" height="2" fill="#edeff5"/><rect x="19" y="1179" width="2722" height="2" fill="#edeff5"/><rect x="2739" y="19" width="2" height="1162" fill="#edeff5"/>
<rect x="20" y="802" width="2719" height="2" fill="#9598a1"/><rect x="20" y="1124" width="2719" height="2" fill="#9598a1"/><rect x="2612" y="21" width="2" height="1158" fill="#9598a1"/>
</g>
<text x="2630.27" y="65.00" font-size="22" fill="#131722" stroke="#131722" stroke-width="0.3" textLength="81.91" lengthAdjust="spacingAndGlyphs">1.12000</text>
<text x="2630.34" y="176.00" font-size="22" fill="#131722" stroke="#131722" stroke-width="0.3" textLength="78.81" lengthAdjust="spacingAndGlyphs">1.11000</text>
<text x="2630.26" y="287.00" font-size="22" fill="#131722" stroke="#131722" stroke-width="0.3" textLength="82.53" lengthAdjust="spacingAndGlyphs">1.10000</text>
<text x="2630.19" y="397.50" font-size="22" fill="#131722" stroke="#131722" stroke-width="0.3" textLength="85.94" lengthAdjust="spacingAndGlyphs">1.09000</text>
<text x="2630.19" y="510.00" font-size="22" fill="#131722" stroke="#131722" stroke-width="0.3" textLength="85.73" lengthAdjust="spacingAndGlyphs">1.08000</text>
<text x="2630.24" y="621.00" font-size="22" fill="#131722" stroke="#131722" stroke-width="0.3" textLength="83.46" lengthAdjust="spacingAndGlyphs">1.07000</text>
<text x="2630.19" y="732.00" font-size="22" fill="#131722" stroke="#131722" stroke-width="0.3" textLength="85.73" lengthAdjust="spacingAndGlyphs">1.06000</text>
<text x="2630.51" y="842.20" font-size="22" fill="#131722" stroke="#131722" stroke-width="0.3" textLength="72.01" lengthAdjust="spacingAndGlyphs">100.00</text>
<text x="2631.07" y="909.00" font-size="22" fill="#131722" stroke="#131722" stroke-width="0.3" textLength="60.17" lengthAdjust="spacingAndGlyphs">75.00</text>
<text x="2631.34" y="976.50" font-size="22" fill="#131722" stroke="#131722" stroke-width="0.3" textLength="59.89" lengthAdjust="spacingAndGlyphs">50.00</text>
<text x="2631.09" y="1042.50" font-size="22" fill="#131722" stroke="#131722" stroke-width="0.3" textLength="60.15" lengthAdjust="spacingAndGlyphs">25.00</text>
<text x="2631.38" y="1109.00" font-size="22" fill="#131722" stroke="#131722" stroke-width="0.3" textLength="46.05" lengthAdjust="spacingAndGlyphs">0.00</text>
<path d="M2612,393h114a4,4 0 0 1 4,4v24a4,4 0 0 1 -4,4h-114z" fill="#26a69a"/>
<text x="2631.18" y="417.30" font-size="22" fill="#fff" stroke="#fff" stroke-width="0.3" textLength="86.56" lengthAdjust="spacingAndGlyphs">1.08838</text>
<path d="M2612,838h86a4,4 0 0 1 4,4v24a4,4 0 0 1 -4,4h-86z" fill="#000"/>
<text x="2631.99" y="862.00" font-size="22" fill="#fff" stroke="#fff" stroke-width="0.3" textLength="59.51" lengthAdjust="spacingAndGlyphs">92.77</text>
<path d="M2612,870h84a4,4 0 0 1 4,4v24a4,4 0 0 1 -4,4h-84z" fill="#ff6d00"/>
<text x="2632.07" y="894.00" font-size="22" fill="#fff" stroke="#fff" stroke-width="0.3" textLength="55.20" lengthAdjust="spacingAndGlyphs">91.73</text>
<text x="116.45" y="1160.00" font-size="22" fill="#131722" stroke="#131722" stroke-width="0.3" textLength="42.17" lengthAdjust="spacingAndGlyphs">Dec</text>
<text x="278.33" y="1160.00" font-size="22" fill="#131722" stroke="#131722" stroke-width="0.3" textLength="24.39" lengthAdjust="spacingAndGlyphs">15</text>
<text x="415.20" y="1160.00" font-size="22" fill="#131722" stroke="#131722" stroke-width="0.2" font-weight="700" textLength="57.43" lengthAdjust="spacingAndGlyphs">2024</text>
<text x="584.50" y="1160.00" font-size="22" fill="#131722" stroke="#131722" stroke-width="0.3" textLength="24.84" lengthAdjust="spacingAndGlyphs">15</text>
<text x="769.23" y="1160.00" font-size="22" fill="#131722" stroke="#131722" stroke-width="0.3" textLength="39.22" lengthAdjust="spacingAndGlyphs">Feb</text>
<text x="929.10" y="1160.00" font-size="22" fill="#131722" stroke="#131722" stroke-width="0.3" textLength="24.84" lengthAdjust="spacingAndGlyphs">15</text>
<text x="1088.10" y="1160.00" font-size="22" fill="#131722" stroke="#131722" stroke-width="0.3" textLength="39.88" lengthAdjust="spacingAndGlyphs">Mar</text>
<text x="1248.50" y="1160.00" font-size="22" fill="#131722" stroke="#131722" stroke-width="0.3" textLength="24.84" lengthAdjust="spacingAndGlyphs">15</text>
<text x="1422.45" y="1160.00" font-size="22" fill="#131722" stroke="#131722" stroke-width="0.3" textLength="36.13" lengthAdjust="spacingAndGlyphs">Apr</text>
<text x="1580.39" y="1160.00" font-size="22" fill="#131722" stroke="#131722" stroke-width="0.3" textLength="24.95" lengthAdjust="spacingAndGlyphs">15</text>
<text x="1750.03" y="1160.00" font-size="22" fill="#131722" stroke="#131722" stroke-width="0.3" textLength="43.01" lengthAdjust="spacingAndGlyphs">May</text>
<text x="1912.41" y="1160.00" font-size="22" fill="#131722" stroke="#131722" stroke-width="0.3" textLength="24.73" lengthAdjust="spacingAndGlyphs">15</text>
<text x="2098.84" y="1160.00" font-size="22" fill="#131722" stroke="#131722" stroke-width="0.3" textLength="37.58" lengthAdjust="spacingAndGlyphs">Jun</text>
<text x="2256.64" y="1160.00" font-size="22" fill="#131722" stroke="#131722" stroke-width="0.3" textLength="25.67" lengthAdjust="spacingAndGlyphs">16</text>
<text x="2421.52" y="1160.00" font-size="22" fill="#131722" stroke="#131722" stroke-width="0.3" textLength="30.79" lengthAdjust="spacingAndGlyphs">Jul</text>
<text x="2576.09" y="1160.00" font-size="22" fill="#131722" stroke="#131722" stroke-width="0.3" textLength="24.97" lengthAdjust="spacingAndGlyphs">14</text>
<text x="35.61" y="60.00" font-size="24" fill="#131722" stroke="#131722" stroke-width="0.4" textLength="139.39" lengthAdjust="spacingAndGlyphs">EURUSD, 1D</text>
<text x="188.51" y="60.00" font-size="24" fill="#131722" stroke="#131722" stroke-width="0.4" textLength="19.49" lengthAdjust="spacingAndGlyphs">O</text>
<text x="207.21" y="60.00" font-size="24" fill="#26a69a" stroke="#26a69a" stroke-width="0.4" textLength="89.86" lengthAdjust="spacingAndGlyphs">1.08740</text>
<text x="310.86" y="60.00" font-size="24" fill="#131722" stroke="#131722" stroke-width="0.4" textLength="17.97" lengthAdjust="spacingAndGlyphs">H</text>
<text x="327.94" y="60.00" font-size="24" fill="#26a69a" stroke="#26a69a" stroke-width="0.4" textLength="93.12" lengthAdjust="spacingAndGlyphs">1.08894</text>
<text x="435.07" y="60.00" font-size="24" fill="#131722" stroke="#131722" stroke-width="0.4" textLength="13.75" lengthAdjust="spacingAndGlyphs">L</text>
<text x="448.41" y="60.00" font-size="24" fill="#26a69a" stroke="#26a69a" stroke-width="0.4" textLength="89.46" lengthAdjust="spacingAndGlyphs">1.08618</text>
<text x="551.40" y="60.00" font-size="24" fill="#131722" stroke="#131722" stroke-width="0.4" textLength="17.10" lengthAdjust="spacingAndGlyphs">C</text>
<text x="568.34" y="60.00" font-size="24" fill="#26a69a" stroke="#26a69a" stroke-width="0.4" textLength="93.08" lengthAdjust="spacingAndGlyphs">1.08838</text>
<text x="675.03" y="60.00" font-size="24" fill="#26a69a" stroke="#26a69a" stroke-width="0.4" textLength="109.28" lengthAdjust="spacingAndGlyphs">+0.00097</text>
<text x="792.31" y="60.00" font-size="24" fill="#26a69a" stroke="#26a69a" stroke-width="0.4" textLength="104.88" lengthAdjust="spacingAndGlyphs">(+0.09%)</text>
<text x="35.82" y="843.60" font-size="24" fill="#131722" stroke="#131722" stroke-width="0.4" textLength="66.26" lengthAdjust="spacingAndGlyphs">Stoch</text>
<text x="109.32" y="843.60" font-size="24" fill="#131722" stroke="#131722" stroke-width="0.4" textLength="95.25" lengthAdjust="spacingAndGlyphs">(14, 1, 3)</text>
<text x="219.32" y="843.60" font-size="24" fill="#000" stroke="#000" stroke-width="0.4" textLength="63.26" lengthAdjust="spacingAndGlyphs">92.77</text>
<text x="296.27" y="843.60" font-size="24" fill="#ff6d00" stroke="#ff6d00" stroke-width="0.4" textLength="60.18" lengthAdjust="spacingAndGlyphs">91.73</text>
<g fill="#131722"><path d="M20.1,1204.3H35.45V1223.3H27.7V1211.8H20.1z"/><circle cx="42.3" cy="1208.5" r="4.3"/><path d="M50,1204.3H59.1L51.2,1223.3H42.5z"/></g>
<text x="66.60" y="1224.60" font-size="26" fill="#131722" stroke="#131722" stroke-width="0.2" textLength="148.33" lengthAdjust="spacingAndGlyphs">TradingView</text>
</svg></body></html>
